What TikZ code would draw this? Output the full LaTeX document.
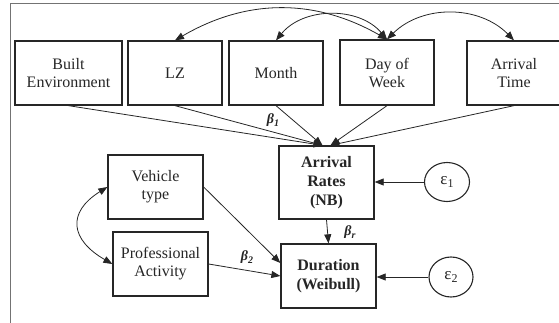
\documentclass[tikz,border=0pt]{standalone}
\usepackage{fontspec}
\setmainfont{Liberation Serif}
\usetikzlibrary{arrows.meta,shapes.geometric}
\begin{document}
\begin{tikzpicture}[x=1pt,y=1pt,
  box/.style={draw=black!85, line width=1.3pt, align=center, inner sep=0pt,
    text=black!85, font=\fontsize{16}{18}\selectfont,
    minimum width=94pt, minimum height=64pt},
  errnode/.style={draw=black!85, line width=1.1pt, ellipse, inner sep=0pt,
    text=black!85, font=\fontsize{17}{17}\selectfont,
    minimum width=45pt, minimum height=39pt},
  tip/.tip={Triangle[length=9pt,width=7pt]},
  link/.style={-tip, line width=0.8pt, draw=black!85},
  twoway/.style={tip-tip, line width=0.8pt, draw=black!85},
  coef/.style={text=black!85, font=\fontsize{14}{14}\selectfont\bfseries\itshape},
  frameline/.style={draw=black!55, line width=1pt}
]
\useasboundingbox (0,0) rectangle (559,322);

% outer frame (left and top edges)
\draw[frameline] (10,-2) -- (10,318) -- (565,318);

% exogenous variables along the top
\node[box, minimum width=107pt] (be) at (68.5,249) {Built\\Environment};
\node[box] (lz) at (175,249) {LZ};
\node[box] (mo) at (276,249) {Month};
\node[box, minimum height=65pt] (dw) at (387,249.5) {Day of\\Week};
\node[box] (at) at (514,249) {Arrival\\Time};

% endogenous variables
\node[box, minimum width=95pt, minimum height=73pt, font=\fontsize{16}{19}\selectfont\bfseries]
  (ar) at (326.5,139.5) {Arrival\\Rates\\(NB)};
\node[box, minimum width=95pt, font=\fontsize{16}{19}\selectfont\bfseries]
  (du) at (328.5,46) {Duration\\(Weibull)};

% vehicle-related variables
\node[box, minimum width=95pt] (vt) at (155.5,135) {Vehicle\\type};
\node[box, minimum width=95pt] (pa) at (160.5,58) {Professional\\Activity};

% error terms
\node[errnode] (e1) at (447,140) {ε\raisebox{-0.3ex}{\fontsize{12}{12}\selectfont 1}};
\node[errnode, minimum width=44pt, minimum height=40pt] (e2) at (451,45)
  {ε\raisebox{-0.45ex}{\fontsize{12}{12}\selectfont 2}};

% correlations among the top variables
\draw[twoway] (dw.north) to[bend right=30] (lz.north);
\draw[twoway] (dw.north) to[bend right=50] (mo.north);
\draw[twoway] (dw.north) to[bend left=45] (at.north);

% paths into the arrival rates
\draw[link] (be.south) -- ([xshift=-4pt]ar.north);
\draw[link] (lz.south) -- ([xshift=-4pt]ar.north);
\draw[link] (mo.south) -- ([xshift=-4pt]ar.north);
\draw[link] (dw.south) -- ([xshift=4pt]ar.north);
\draw[link] (at.south) -- ([xshift=4pt]ar.north);

% paths into the duration
\draw[link] (ar.south) -- (du.north);
\draw[link] (vt.east) -- ([yshift=13pt]du.west);
\draw[link] (pa.east) -- (du.west);
\draw[twoway] (vt.west) to[out=212,in=150,looseness=1.6] (pa.west);

% error paths
\draw[link] (e1) -- (ar.east |- e1);
\draw[link] (e2) -- (du.east |- e2);

% coefficient labels
\node[coef] (b1) at (273,202) {β\raisebox{-0.45ex}{\fontsize{10}{10}\selectfont 1}};
\node[coef] (b2) at (247,65) {β\raisebox{-0.45ex}{\fontsize{10}{10}\selectfont 2}};
\node[coef] (br) at (350,90) {β\raisebox{-0.45ex}{\fontsize{10}{10}\selectfont r}};
\end{tikzpicture}
\end{document}
